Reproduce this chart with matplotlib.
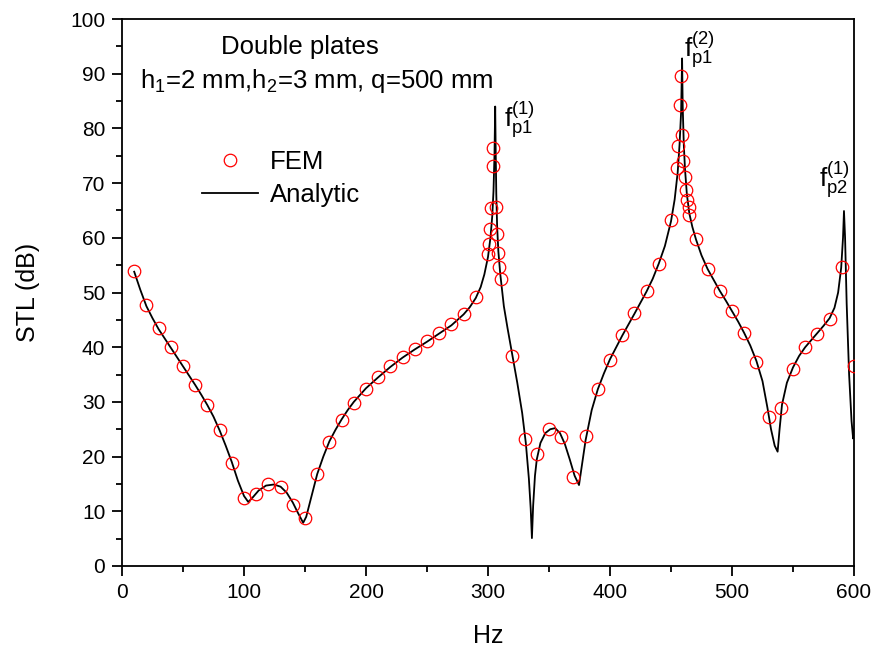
import matplotlib
matplotlib.use('Agg')
import matplotlib.pyplot as plt
from matplotlib.ticker import MultipleLocator

plt.rcParams['font.family'] = ['Liberation Sans', 'DejaVu Sans']
plt.rcParams['mathtext.fontset'] = 'custom'
plt.rcParams['mathtext.rm'] = 'Liberation Sans'
plt.rcParams['mathtext.it'] = 'Liberation Sans'

# FEM results (Hz, dB)
fem_hz = [10, 20, 30, 40, 50, 60, 70, 80, 90, 100, 110, 120, 130, 140, 150,
          160, 170, 180, 190, 200, 210, 220, 230, 240, 250, 260, 270, 280, 290,
          300, 300.8, 301.6, 302.2, 303.8, 304.4, 306.6, 307.1, 308.5, 309.3, 310.4,
          320, 330, 340, 350, 360, 370, 380, 390, 400, 410, 420, 430, 440, 450,
          454.7, 455.7, 457.4, 457.9, 459.3, 460.1, 461.2, 462, 463.4, 464.5, 465,
          470.5, 480, 490, 500, 510, 520, 530, 540, 550, 560, 570, 580, 590, 600]
fem_db = [54.0, 47.7, 43.5, 40.0, 36.6, 33.1, 29.4, 24.9, 18.8, 12.4, 13.2, 15.0, 14.4, 11.2, 8.8,
          16.8, 22.7, 26.7, 29.8, 32.4, 34.5, 36.5, 38.2, 39.7, 41.1, 42.6, 44.2, 46.1, 49.2,
          57.0, 58.9, 61.6, 65.4, 73.2, 76.5, 65.7, 60.7, 57.3, 54.7, 52.5,
          38.4, 23.2, 20.4, 25.0, 23.6, 16.3, 23.7, 32.3, 37.7, 42.2, 46.2, 50.3, 55.3, 63.3,
          72.7, 76.7, 84.2, 89.5, 78.8, 74.1, 71.1, 68.7, 66.9, 65.6, 64.2,
          59.7, 54.3, 50.3, 46.6, 42.6, 37.3, 27.2, 28.8, 36.1, 40.0, 42.5, 45.1, 54.7, 36.6]

# analytic curve (Hz, dB)
ana_hz = [10, 15, 20, 25, 30, 35, 40, 45, 50, 55, 60, 65, 70, 75, 80, 85, 90, 95, 100,
          103.5, 107, 112, 118, 124.5, 130, 135, 140, 144, 148.5, 151, 155, 160, 165,
          170, 175, 180, 185, 190, 200, 210, 220, 230, 240, 250, 260, 270, 280, 285,
          290, 294, 297, 300, 302, 303.5, 304.5, 305.3, 305.9, 306.3, 306.8, 307.5,
          308.5, 310, 313, 316, 320, 324, 328, 331, 333.5, 335, 336, 337, 338.5, 340,
          343, 347, 351, 355, 359, 363, 367, 371, 374.6, 377, 380, 385, 390, 395, 400,
          410, 420, 430, 435, 440, 445, 450, 453, 455.5, 457, 458.3, 459.1, 459.6,
          460.5, 461.5, 463, 465, 467.5, 470.5, 475, 480, 485, 490, 495, 500, 505,
          510, 515, 520, 525, 529, 532, 535, 537.4, 539, 541, 545, 550, 555, 560,
          565, 570, 575, 580, 584, 587, 589.5, 591, 591.8, 592.7, 594, 596, 598,
          599.3, 600]
ana_db = [53.8, 50.5, 47.5, 45.3, 43.3, 41.6, 39.9, 38.2, 36.5, 34.8, 33.1, 31.3, 29.4,
          27.3, 24.8, 22.0, 19.0, 15.6, 12.8,
          11.7, 12.5, 13.8, 14.7, 14.9, 14.5, 13.4, 11.6, 9.8, 7.9, 9.0, 12.5, 16.8, 20.0,
          22.8, 24.9, 26.8, 28.5, 30.0, 32.5, 34.5, 36.4, 38.1, 39.6, 41.0, 42.5, 44.0,
          46.0, 47.3,
          49.0, 51.0, 53.3, 56.5, 60.0, 64.0, 68.5, 75.0, 84.0, 76.0, 68.0, 62.0,
          57.5, 53.5, 47.5, 43.5, 38.5, 33.5, 28.0, 22.5, 16.0, 10.5, 5.1, 11.0, 16.5, 19.5,
          22.5, 24.3, 25.0, 25.2, 24.3, 22.3, 19.5, 16.5, 14.8, 18.5, 23.0, 28.5, 32.3,
          35.2, 37.8,
          42.1, 46.1, 50.2, 52.5, 55.3, 58.5, 63.0, 67.0, 72.0, 77.0, 83.0, 92.8, 84.0,
          77.0, 72.5, 68.0, 64.5, 62.0, 59.7, 56.8, 54.3, 52.3, 50.3, 48.5, 46.6, 44.7,
          42.6, 40.3, 37.5, 33.8, 29.0, 25.0, 22.0, 20.9, 25.0, 29.5, 33.5, 36.3, 38.4, 40.0,
          41.3, 42.6, 43.9, 45.3, 47.2, 50.0, 54.5, 60.0, 64.9, 60.0, 48.0, 35.0, 26.5,
          23.3, 25.0]

fig = plt.figure(figsize=(8.74, 6.47), dpi=100)
ax = fig.add_axes([0.1396, 0.1252, 0.8375, 0.8454])

ax.plot(ana_hz, ana_db, color='black', linewidth=1.3, label='Analytic', zorder=2)
ax.plot(fem_hz, fem_db, linestyle='none', marker='o', markersize=9,
        markerfacecolor='none', markeredgecolor='red', markeredgewidth=0.9,
        label='FEM', zorder=3)

ax.set_xlim(0, 600)
ax.set_ylim(0, 100)
ax.xaxis.set_major_locator(MultipleLocator(100))
ax.xaxis.set_minor_locator(MultipleLocator(50))
ax.yaxis.set_major_locator(MultipleLocator(10))
ax.yaxis.set_minor_locator(MultipleLocator(5))
ax.tick_params(which='both', direction='out', top=False, right=False, width=1.3)
ax.tick_params(which='major', length=7, labelsize=15, pad=5)
ax.tick_params(which='minor', length=4)
for s in ax.spines.values():
    s.set_linewidth(1.3)

ax.set_xlabel('Hz', fontsize=18, labelpad=16)
ax.set_ylabel('STL (dB)', fontsize=18, labelpad=22)

handles, labels = ax.get_legend_handles_labels()
ax.legend(handles[::-1], labels[::-1], loc='upper left', bbox_to_anchor=(0.095, 0.779),
          frameon=False, fontsize=18.5, handlelength=2.2, handletextpad=0.45,
          labelspacing=0.35, borderaxespad=0)

ax.text(146, 94.9, 'Double plates', fontsize=18.5, ha='center', va='center')
ax.text(160, 88.6, r'h$_1$=2 mm,h$_2$=3 mm, q=500 mm', fontsize=18.5, ha='center', va='center')

ax.text(313, 81.5, r'$\mathregular{f_{p1}^{(1)}}$', fontsize=19, ha='left', va='center')
ax.text(461, 94.3, r'$\mathregular{f_{p1}^{(2)}}$', fontsize=19, ha='left', va='center')
ax.text(571, 70.5, r'$\mathregular{f_{p2}^{(1)}}$', fontsize=19, ha='left', va='center')

fig.savefig('out.png', dpi=100)
